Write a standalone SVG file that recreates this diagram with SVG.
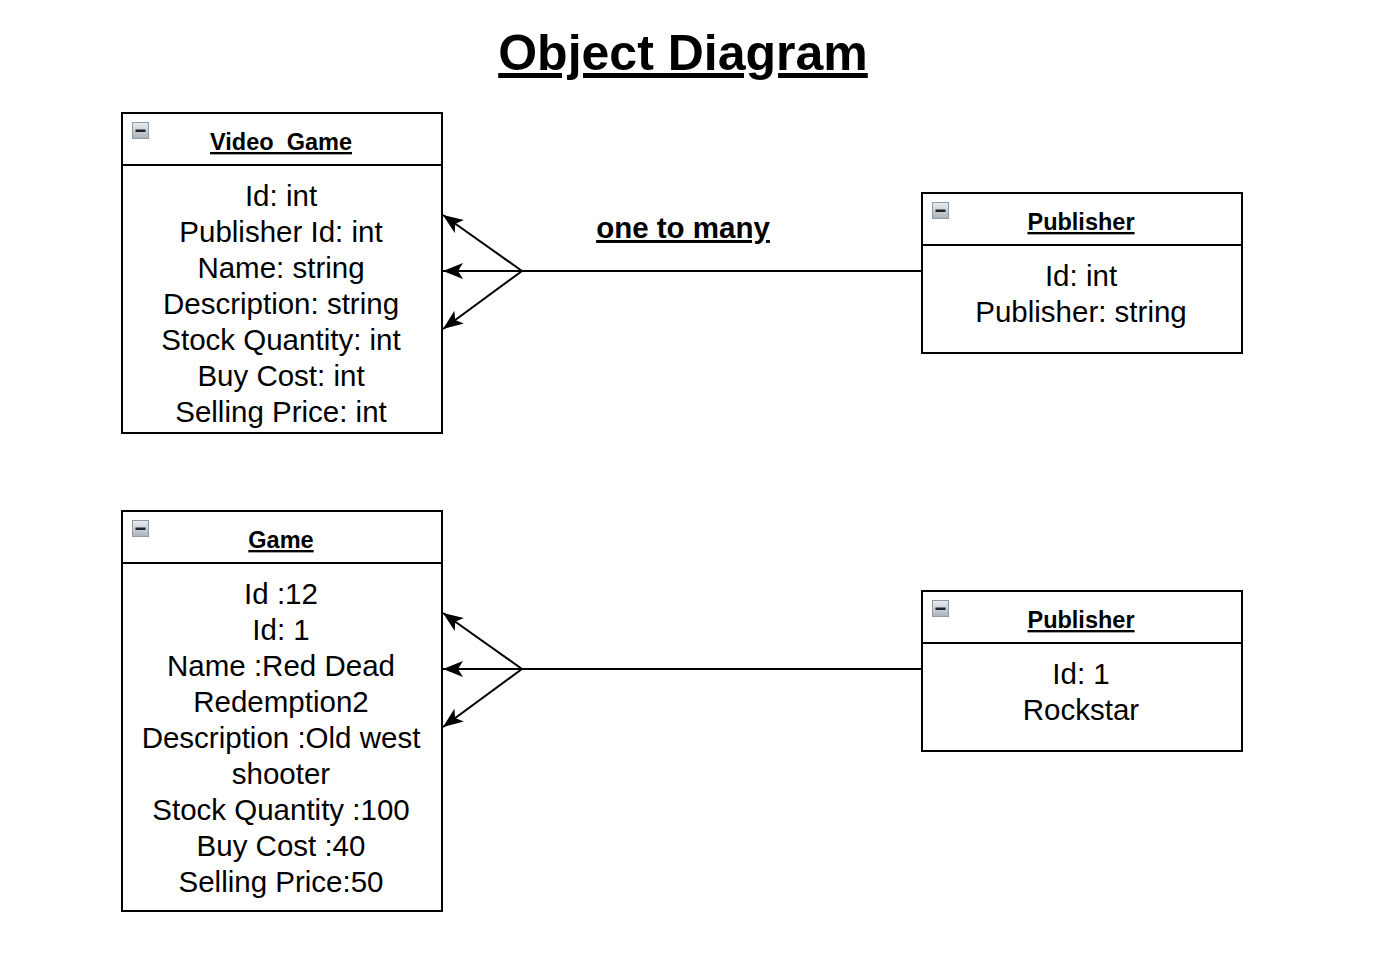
<svg xmlns="http://www.w3.org/2000/svg" width="1384" height="978" viewBox="0 0 1384 978">
<style>
.box{fill:#fff;stroke:#000;stroke-width:2}
.div{stroke:#000;stroke-width:2}
.hdr{font-family:"Liberation Sans",Arial,sans-serif;font-size:23.5px;font-weight:bold;text-anchor:middle;text-decoration:underline}
.body{font-family:"Liberation Sans",Arial,sans-serif;font-size:29.5px;text-anchor:middle}
.conn{fill:none;stroke:#000;stroke-width:2}
</style>
<defs>
<linearGradient id="ig" x1="0" y1="0" x2="0" y2="1">
<stop offset="0" stop-color="#e8edf2"/>
<stop offset="1" stop-color="#a9b3bd"/>
</linearGradient>
<g id="icon">
<rect x="0" y="0" width="16" height="16" fill="url(#ig)" stroke="#8e99a4" stroke-width="1"/>
<rect x="3" y="7" width="10" height="2.5" fill="#222"/>
</g>
<marker id="arr" viewBox="0 0 20 20" refX="20" refY="10" markerWidth="20" markerHeight="20" markerUnits="userSpaceOnUse" orient="auto">
<path d="M20,10 L0,2 L5,10 L0,18 Z" fill="#000"/>
</marker>
</defs>
<rect width="1384" height="978" fill="#fff"/>
<text x="683" y="70" font-family="'Liberation Sans',Arial,sans-serif" font-size="50" font-weight="bold" text-anchor="middle" text-decoration="underline">Object Diagram</text>
<g id="connectors">
<path class="conn" d="M922,271 L522,271"/>
<path class="conn" d="M522,271 L443,215" marker-end="url(#arr)"/>
<path class="conn" d="M522,271 L443,271" marker-end="url(#arr)"/>
<path class="conn" d="M522,271 L443,329" marker-end="url(#arr)"/>
<text x="683" y="238" font-family="'Liberation Sans',Arial,sans-serif" font-size="29.5" font-weight="bold" text-anchor="middle" text-decoration="underline">one to many</text>
<path class="conn" d="M922,669 L522,669"/>
<path class="conn" d="M522,669 L443,613" marker-end="url(#arr)"/>
<path class="conn" d="M522,669 L443,669" marker-end="url(#arr)"/>
<path class="conn" d="M522,669 L443,727" marker-end="url(#arr)"/>
</g>
<g id="video_game">
<rect class="box" x="122" y="113" width="320" height="320"/>
<line class="div" x1="122" y1="165" x2="442" y2="165"/>
<use href="#icon" x="132.5" y="122.5"/>
<text class="hdr" x="281" y="150">Video_Game</text>
<text class="body" x="281" y="206">Id: int</text>
<text class="body" x="281" y="242">Publisher Id: int</text>
<text class="body" x="281" y="278">Name: string</text>
<text class="body" x="281" y="314">Description: string</text>
<text class="body" x="281" y="350">Stock Quantity: int</text>
<text class="body" x="281" y="386">Buy Cost: int</text>
<text class="body" x="281" y="422">Selling Price: int</text>
</g>
<g id="publisher1">
<rect class="box" x="922" y="193" width="320" height="160"/>
<line class="div" x1="922" y1="245" x2="1242" y2="245"/>
<use href="#icon" x="932.5" y="202.5"/>
<text class="hdr" x="1081" y="230">Publisher</text>
<text class="body" x="1081" y="286">Id: int</text>
<text class="body" x="1081" y="322">Publisher: string</text>
</g>
<g id="game">
<rect class="box" x="122" y="511" width="320" height="400"/>
<line class="div" x1="122" y1="563" x2="442" y2="563"/>
<use href="#icon" x="132.5" y="520.5"/>
<text class="hdr" x="281" y="548">Game</text>
<text class="body" x="281" y="604">Id :12</text>
<text class="body" x="281" y="640">Id: 1</text>
<text class="body" x="281" y="676">Name :Red Dead</text>
<text class="body" x="281" y="712">Redemption2</text>
<text class="body" x="281" y="748">Description :Old west</text>
<text class="body" x="281" y="784">shooter</text>
<text class="body" x="281" y="820">Stock Quantity :100</text>
<text class="body" x="281" y="856">Buy Cost :40</text>
<text class="body" x="281" y="892">Selling Price:50</text>
</g>
<g id="publisher2">
<rect class="box" x="922" y="591" width="320" height="160"/>
<line class="div" x1="922" y1="643" x2="1242" y2="643"/>
<use href="#icon" x="932.5" y="600.5"/>
<text class="hdr" x="1081" y="628">Publisher</text>
<text class="body" x="1081" y="684">Id: 1</text>
<text class="body" x="1081" y="720">Rockstar</text>
</g>
</svg>
